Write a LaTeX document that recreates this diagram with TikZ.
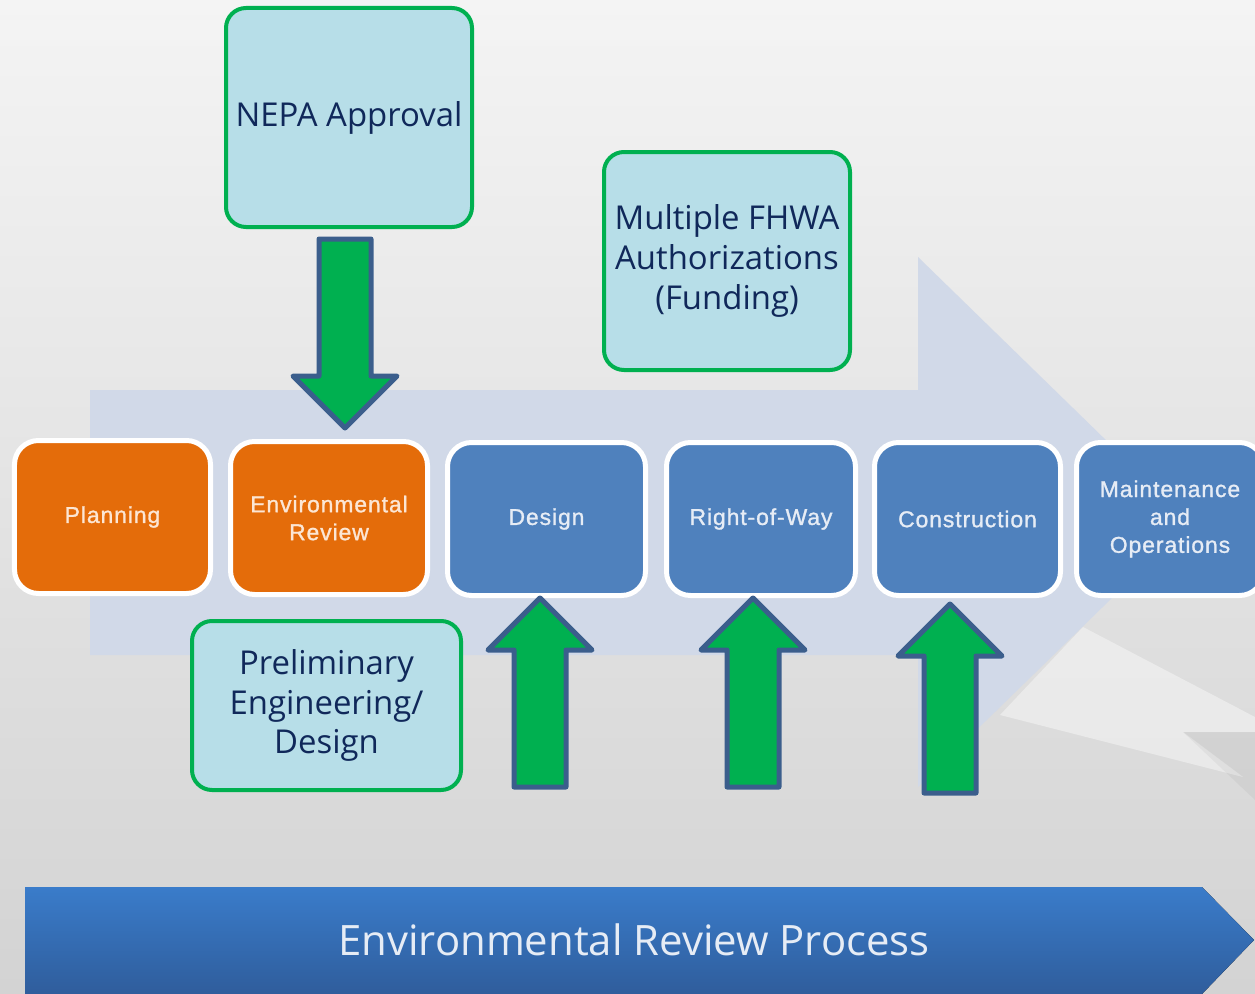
\documentclass[tikz,border=0pt]{standalone}
\usepackage{fontspec}
\setmainfont{Open Sans}
\newfontfamily\stagefont[FakeBold=1.2, LetterSpace=4]{Liberation Sans}
\usetikzlibrary{positioning}

\definecolor{stageorange}{HTML}{E46C0A}
\definecolor{stageblue}{HTML}{4F81BD}
\definecolor{orangetext}{HTML}{FCE6D4}
\definecolor{bluetext}{HTML}{E6ECF5}
\definecolor{calloutfill}{HTML}{B7DEE8}
\definecolor{calloutline}{HTML}{00B050}
\definecolor{callouttext}{HTML}{10285A}
\definecolor{arrowgreen}{HTML}{00B050}
\definecolor{arrowline}{HTML}{3B5E8C}
\definecolor{flowarrow}{HTML}{D1D9E8}
\definecolor{bannertop}{HTML}{3A7CCA}
\definecolor{bannerbot}{HTML}{2F5D9C}
\definecolor{bgtop}{HTML}{F4F4F4}
\definecolor{bgbot}{HTML}{D3D3D3}

\tikzset{
  stage/.style={draw=white, line width=5bp, rounded corners=24bp, minimum height=153bp,
    inner sep=0pt, align=center, font=\stagefont\fontsize{23}{28}\selectfont},
  stageorng/.style={stage, fill=stageorange, text=orangetext},
  stageblu/.style={stage, fill=stageblue, text=bluetext},
  callout/.style={fill=calloutfill, draw=calloutline, line width=4bp, rounded corners=20bp,
    inner sep=0pt, align=center, text=callouttext, font=\fontsize{33}{40}\selectfont},
}

\begin{document}
\begin{tikzpicture}[x=1bp, y=-1bp, line width=1bp]

    \def\greenup{
      \filldraw[fill=arrowgreen, draw=arrowline, line width=5bp, line join=round]
        (0,0) -- (52,52) -- (26,52) -- (26,189) -- (-26,189) -- (-26,52) -- (-52,52) -- cycle;
    }

    \useasboundingbox (0,0) rectangle (1255,994);

    % background
    \fill[top color=bgtop, bottom color=bgbot] (0,0) rectangle (1255,994);
    \fill[white, opacity=.4] (1000,715) -- (1083,627) -- (1255,717) -- (1255,732) -- (1183,732) -- (1243,777) -- cycle;
    \fill[black, opacity=.04] (1183,732) -- (1255,732) -- (1255,800) -- cycle;

    % process arrow behind the stages
    \fill[flowarrow] (90,390) -- (918,390) -- (918,257) -- (1190,522) -- (918,787) -- (918,655) -- (90,655) -- cycle;

    \node[stageorng, minimum width=196bp] (plan)   at (112.5,517) {Planning};
    \node[stageorng, minimum width=197bp] (envrev) at (329,518)   {Environmental\\Review};
    \node[stageblu,  minimum width=198bp] (design) at (546.5,519) {Design};
    \node[stageblu,  minimum width=189bp] (row)    at (761,519)   {Right-of-Way};
    \node[stageblu,  minimum width=186bp] (constr) at (967.5,519) {Construction};
    \node[stageblu,  minimum width=187bp] (maint)  at (1170,519)  {Maintenance\\and\\Operations};

    \node[callout, minimum width=246bp, minimum height=219bp] (nepa)   at (349,117.5) {NEPA Approval};
    \node[callout, minimum width=246bp, minimum height=218bp] (fhwa)   at (727,261)   {Multiple FHWA\\Authorizations\\(Funding)};
    \node[callout, minimum width=269bp, minimum height=169bp] (prelim) at (326.5,705.5) {Preliminary\\Engineering/\\Design};

    \begin{scope}[ shift = ({ 345 , 428 }) , rotate = 180 ] \greenup \end{scope}
    \begin{scope}[ shift = ({ 540 , 598 }) ]                \greenup \end{scope}
    \begin{scope}[ shift = ({ 753 , 598 }) ]                \greenup \end{scope}
    \begin{scope}[ shift = ({ 950 , 604 }) ]                \greenup \end{scope}

    % banner
    \fill[top color=bannertop, bottom color=bannerbot] (25,887) -- (1202,887) -- (1254,940) -- (1202,994) -- (25,994) -- cycle;
    \node[text=bluetext, font=\fontsize{42}{48}\selectfont] (proc) at (634,940) {Environmental Review Process};

\end{tikzpicture}
\end{document}
